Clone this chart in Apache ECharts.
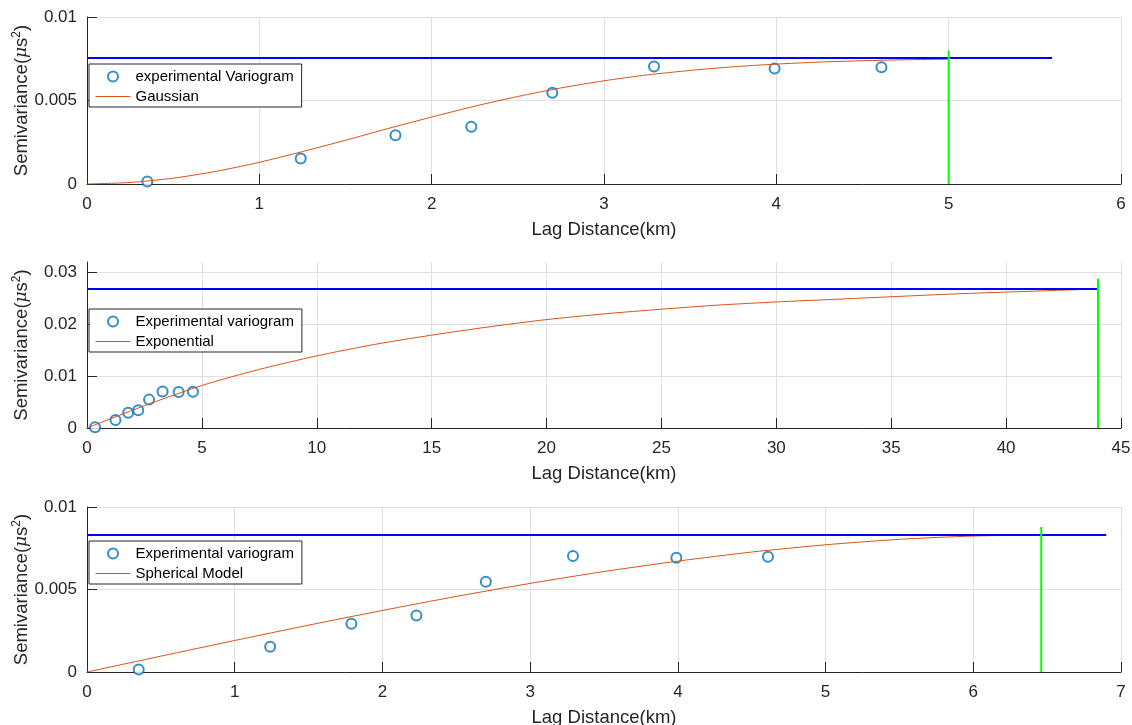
<!DOCTYPE html>
<html>
<head>
<meta charset="utf-8">
<script src="https://cdn.jsdelivr.net/npm/echarts@6/dist/echarts.min.js"></script>
<style>
  html, body { margin: 0; padding: 0; background: #fff; }
  #main { width: 1132px; height: 725px; }
</style>
</head>
<body>
<div id="main"></div>
<script>
// experimental variogram (same bins in all three panels)
var lagKm = [0.35, 1.24, 1.79, 2.23, 2.70, 3.29, 3.99, 4.61];
var semivar = [0.00015, 0.00153, 0.00292, 0.00343, 0.00547, 0.00703, 0.00692, 0.00699];

var gaussH = [0, 0.25, 0.5, 0.75, 1, 1.25, 1.5, 1.75, 2, 2.25, 2.5, 2.75, 3, 3.25, 3.5, 3.75, 4, 4.25, 4.5, 4.75, 5];
var gaussV = [0, 0.00009, 0.00035, 0.00076, 0.00130, 0.00194, 0.00262, 0.00333, 0.00401, 0.00466, 0.00524, 0.00575, 0.00618, 0.00653, 0.00680, 0.00702, 0.00718, 0.00730, 0.00738, 0.00744, 0.00747];
var gaussSill = [0, 5.6, 0.00754];   // x from, x to, level
var gaussRange = [5, 0.0080];        // x, top

// exponential model, panel 2
var expoH = [0, 2.5, 5, 7.5, 10, 12.5, 15, 17.5, 20, 22.5, 25, 27.5, 30, 32.5, 35, 37.5, 40, 42, 44];
var expoV = [0, 0.0043, 0.0082, 0.0113, 0.0139, 0.0161, 0.0179, 0.0195, 0.0209, 0.0220, 0.0229, 0.0237, 0.0243, 0.0248, 0.0253, 0.0258, 0.0262, 0.0265, 0.0268];
var expoSill = [0, 44, 0.0268];
var expoRange = [44, 0.0288];

// spherical model, panel 3
var sphH = [0, 0.5, 1, 1.5, 2, 2.5, 3, 3.5, 4, 4.5, 5, 5.5, 6, 6.46];
var sphV = [0, 0.00096, 0.00191, 0.00284, 0.00373, 0.00458, 0.00537, 0.00609, 0.00672, 0.00727, 0.00771, 0.00804, 0.00824, 0.0083];
var sphSill = [0, 6.9, 0.0083];
var sphRange = [6.46, 0.00879];

var font = 'Liberation Sans, Arial, Helvetica, sans-serif';
var tickColor = '#262626';
var gridColor = '#dfdfdf';

function pairs(xs, ys) {
    var out = [];
    for (var i = 0; i < xs.length; i++) out.push([xs[i], ys[i]]);
    return out;
}

function xAxisFor(idx, max, step) {
    return {
        type: 'value', gridIndex: idx, min: 0, max: max, interval: step,
        name: 'Lag Distance(km)', nameLocation: 'middle', nameGap: 36, nameMoveOverlap: false,
        nameTextStyle: { fontFamily: font, fontSize: 18.5, color: tickColor },
        axisLine: { show: true, onZero: false, lineStyle: { color: tickColor, width: 1 } },
        axisTick: { show: true, inside: true, length: 10, lineStyle: { color: tickColor } },
        axisLabel: { fontFamily: font, fontSize: 17, color: tickColor, margin: 12 },
        splitLine: { show: true, lineStyle: { color: gridColor, width: 1 } }
    };
}

function yAxisFor(idx, max, step, splitColors) {
    return {
        type: 'value', gridIndex: idx, min: 0, max: max, interval: step,
        name: 'Semivariance({mu|μ}s{sup|2})', nameLocation: 'middle', nameGap: 55, nameMoveOverlap: false,
        nameTextStyle: {
            fontFamily: font, fontSize: 18.5, color: tickColor,
            rich: {
                mu: { fontFamily: 'DejaVu Serif', fontStyle: 'italic', fontSize: 17, color: tickColor },
                sup: { fontFamily: font, fontSize: 12, color: tickColor, verticalAlign: 'bottom', padding: [0, 0, 9, 0] }
            }
        },
        axisLine: { show: true, lineStyle: { color: tickColor, width: 1 } },
        axisTick: { show: true, inside: true, length: 10, lineStyle: { color: tickColor } },
        axisLabel: { fontFamily: font, fontSize: 17, color: tickColor, margin: 10, showMaxLabel: splitColors ? false : true },
        splitLine: { show: true, lineStyle: { color: splitColors || gridColor, width: 1 } }
    };
}

function legendFor(top, names) {
    return {
        data: [
            { name: names[0] },
            { name: names[1], itemStyle: { opacity: 0 }, lineStyle: { width: 1 } }
        ],
        orient: 'vertical', left: 89, top: top,
        padding: [5, 8, 3, 6], itemGap: 5, itemWidth: 35, itemHeight: 10,
        backgroundColor: '#fff', borderColor: tickColor, borderWidth: 1, borderRadius: 0,
        textStyle: { fontFamily: font, fontSize: 15, color: '#000' },
        selectedMode: false
    };
}

function panelSeries(idx, pointName, modelName, mh, mv, sill, range) {
    return [
        {
            name: pointName, type: 'scatter', xAxisIndex: idx, yAxisIndex: idx,
            data: pairs(lagKm, semivar), symbol: 'emptyCircle', symbolSize: 10,
            itemStyle: { color: '#0072BD', borderColor: '#0072BD', borderWidth: 1.6 }, z: 2
        },
        {
            name: modelName, type: 'line', xAxisIndex: idx, yAxisIndex: idx,
            data: pairs(mh, mv), symbol: 'none', smooth: 0.25,
            lineStyle: { color: '#D95319', width: 1 }, itemStyle: { color: '#D95319' }, z: 3
        },
        {
            name: 'sill', type: 'line', xAxisIndex: idx, yAxisIndex: idx,
            data: [[sill[0], sill[2]], [sill[1], sill[2]]], symbol: 'none',
            lineStyle: { color: '#0000FF', width: 2 }, z: 4
        },
        {
            name: 'range', type: 'line', xAxisIndex: idx, yAxisIndex: idx,
            data: [[range[0], 0], [range[0], range[1]]], symbol: 'none',
            lineStyle: { color: '#00FF00', width: 2 }, z: 5
        }
    ];
}

var chart = echarts.init(document.getElementById('main'), null, { renderer: 'canvas' });
chart.setOption({
    animation: false,
    backgroundColor: '#fff',
    grid: [
        { left: 87, top: 17, width: 1034, height: 167, outerBoundsMode: 'none', containLabel: false },
        { left: 87, top: 262, width: 1034, height: 166, outerBoundsMode: 'none', containLabel: false },
        { left: 87, top: 507, width: 1034, height: 165, outerBoundsMode: 'none', containLabel: false }
    ],
    xAxis: [xAxisFor(0, 6, 1), xAxisFor(1, 45, 5), xAxisFor(2, 7, 1)],
    yAxis: [
        yAxisFor(0, 0.01, 0.005),
        yAxisFor(1, 0.032, 0.01, [gridColor, gridColor, gridColor, gridColor, 'rgba(0,0,0,0)']),
        yAxisFor(2, 0.01, 0.005)
    ],
    legend: [
        legendFor(64, ['experimental Variogram', 'Gaussian']),
        legendFor(309, ['Experimental variogram', 'Exponential']),
        legendFor(541, ['Experimental variogram', 'Spherical Model'])
    ],
    series: [].concat(
        panelSeries(0, 'experimental Variogram', 'Gaussian', gaussH, gaussV, gaussSill, gaussRange),
        panelSeries(1, 'Experimental variogram', 'Exponential', expoH, expoV, expoSill, expoRange),
        panelSeries(2, 'Experimental variogram', 'Spherical Model', sphH, sphV, sphSill, sphRange)
    )
});
</script>
</body>
</html>
